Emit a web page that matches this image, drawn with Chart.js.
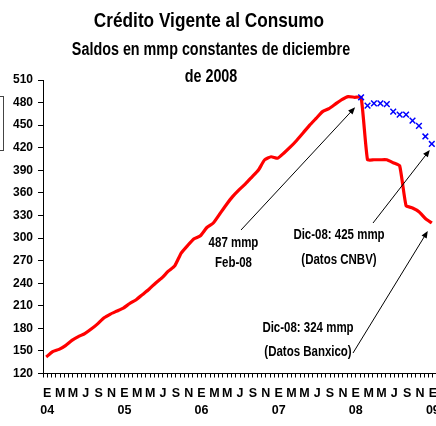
<!DOCTYPE html>
<html>
<head>
<meta charset="utf-8">
<script src="https://cdn.jsdelivr.net/npm/chart.js@4"></script>
<style>
  html, body { margin: 0; padding: 0; background: #fff; overflow: hidden; }
  #wrap { position: relative; width: 460px; height: 426px; }
</style>
</head>
<body>
<div id="wrap"><canvas id="chart"></canvas></div>
<script>
// month letters under the axis (every second month) and the year row
const monthLetters = ['E', 'M', 'M', 'J', 'S', 'N'];
const yearLabels = ['04', '05', '06', '07', '08', '09'];

// Banxico series, one value per month (61 points)
const banxico = [
  142, 149, 152, 157, 164, 169, 173, 179, 186, 194,
  199, 203, 207, 213, 218, 225, 232, 240, 247, 256,
  263, 280, 290, 299, 303, 314, 320, 332, 344, 355,
  364, 372, 381, 390, 404, 408, 406, 413, 421, 430,
  440, 450, 459, 468, 472, 478, 484, 488, 487, 487,
  404, 404, 404, 404, 400, 396, 343, 340, 335, 326,
  320
];

// CNBV series, starts at month index 49 (Feb-08)
const cnbvStart = 49;
const cnbv = [487, 476, 479, 479, 478, 468, 464, 464, 456, 449, 435, 425];

const FONT = "'Liberation Sans', Arial, sans-serif";
Chart.defaults.font.family = FONT;

// Arial Narrow look: bold Liberation Sans squeezed horizontally
function narrowText(ctx, text, x, y, size) {
    ctx.save();
    ctx.font = 'bold ' + size + 'px ' + FONT;
    ctx.translate(x, y);
    ctx.scale(0.82, 1);
    ctx.fillText(text, 0, 0);
    ctx.restore();
}

function arrow(ctx, x1, y1, x2, y2) {
    const a = Math.atan2(y2 - y1, x2 - x1);
    ctx.beginPath();
    ctx.moveTo(x1, y1);
    ctx.lineTo(x2 - 5 * Math.cos(a), y2 - 5 * Math.sin(a));
    ctx.stroke();
    ctx.beginPath();
    ctx.moveTo(x2, y2);
    ctx.lineTo(x2 - 7 * Math.cos(a) + 3 * Math.sin(a), y2 - 7 * Math.sin(a) - 3 * Math.cos(a));
    ctx.lineTo(x2 - 7 * Math.cos(a) - 3 * Math.sin(a), y2 - 7 * Math.sin(a) + 3 * Math.cos(a));
    ctx.closePath();
    ctx.fill();
}

const decor = {
    id: 'decor',
    afterDraw(chart) {
        const { ctx, scales: { x, y } } = chart;
        ctx.save();
        ctx.fillStyle = '#000';
        ctx.strokeStyle = '#000';
        ctx.textAlign = 'center';
        ctx.textBaseline = 'middle';

        narrowText(ctx, 'Crédito Vigente al Consumo', 209, 21, 21);
        narrowText(ctx, 'Saldos en mmp constantes de diciembre', 211, 50, 17.5);
        narrowText(ctx, 'de 2008', 211, 77, 17.5);

        // cut-off legend box on the left edge
        ctx.lineWidth = 1;
        ctx.strokeStyle = '#444';
        ctx.strokeRect(-10.5, 96.5, 14, 54);

        narrowText(ctx, '487 mmp', 233.5, 243, 14);
        narrowText(ctx, 'Feb-08', 233.5, 263, 14);
        narrowText(ctx, 'Dic-08: 425 mmp', 339, 235, 14);
        narrowText(ctx, '(Datos CNBV)', 339, 260, 14);
        narrowText(ctx, 'Dic-08: 324 mmp', 308, 328, 14);
        narrowText(ctx, '(Datos Banxico)', 308, 352, 14);

        ctx.strokeStyle = '#000';
        ctx.lineWidth = 1;
        const last = banxico.length - 1;
        arrow(ctx, 241, 230, x.getPixelForValue(cnbvStart) - 6, y.getPixelForValue(cnbv[0]) + 10);
        arrow(ctx, 373, 223, x.getPixelForValue(last) - 2, y.getPixelForValue(cnbv[cnbv.length - 1]) + 6);
        arrow(ctx, 353, 353, x.getPixelForValue(last) - 4, y.getPixelForValue(banxico[last]) + 8);
        ctx.restore();
    }
};

new Chart(document.getElementById('chart').getContext('2d'), {
    type: 'line',
    data: {
        datasets: [{
            label: 'Datos CNBV',
            data: cnbv.map((v, i) => ({ x: cnbvStart + i, y: v })),
            showLine: false,
            pointStyle: 'crossRot',
            pointRadius: 4,
            borderColor: '#0000ff',
            backgroundColor: '#0000ff',
            pointBorderWidth: 1.5,
            order: 0
        }, {
            label: 'Datos Banxico',
            data: banxico.map((v, i) => ({ x: i, y: v })),
            borderColor: '#ff0000',
            borderWidth: 3.2,
            pointRadius: 0,
            tension: 0.15,
            order: 1
        }]
    },
    options: {
        responsive: true,
        maintainAspectRatio: false,
        animation: false,
        layout: { padding: { left: 0, right: 25, top: 80, bottom: 0 } },
        plugins: {
            legend: { display: false },
            tooltip: { enabled: false }
        },
        scales: {
            x: {
                type: 'linear',
                min: -0.5,
                max: 60.5,
                afterBuildTicks(axis) {
                    const t = [];
                    for (let k = 0; k <= 91; k++) t.push({ value: -0.5 + k * 2 / 3 });
                    axis.ticks = t;
                },
                afterFit(axis) { axis.height = 52.5; },
                grid: { drawOnChartArea: false, color: '#000', tickLength: 4 },
                border: { color: '#000' },
                ticks: {
                    autoSkip: false,
                    maxRotation: 0,
                    padding: 8,
                    color: '#000',
                    font: { size: 12.5, weight: 'bold', lineHeight: 1.32 },
                    callback(value, index) {
                        if (index % 3 !== 1) return '';
                        const j = (index - 1) / 3;
                        return [monthLetters[j % 6], j % 6 === 0 ? yearLabels[j / 6] : ''];
                    }
                }
            },
            y: {
                min: 120,
                max: 510,
                afterFit(axis) { axis.width = 43; },
                grid: { drawOnChartArea: false, color: '#000', tickLength: 5 },
                border: { color: '#000' },
                ticks: {
                    stepSize: 30,
                    padding: 5,
                    color: '#000',
                    font: { size: 12, weight: 'bold' }
                }
            }
        }
    },
    plugins: [decor]
});
</script>
</body>
</html>
